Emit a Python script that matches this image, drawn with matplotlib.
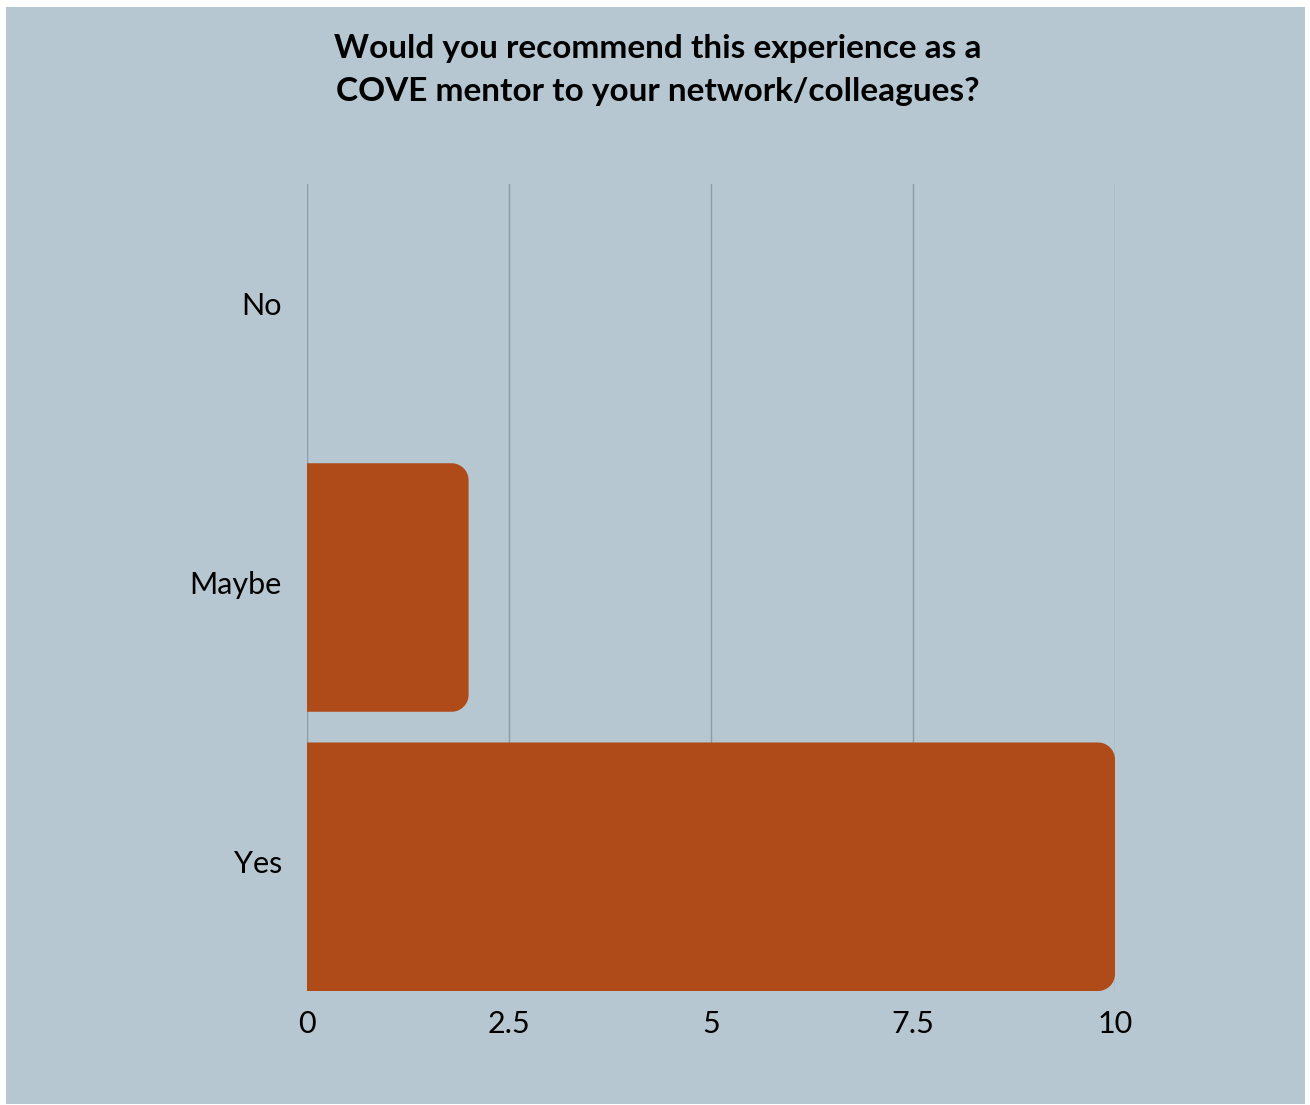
import matplotlib
matplotlib.use("Agg")
import matplotlib.pyplot as plt
from matplotlib.path import Path
from matplotlib.patches import PathPatch, Rectangle
from matplotlib.transforms import ScaledTranslation

categories = ["No", "Maybe", "Yes"]
values = [0, 2, 10]
xticks = [0, 2.5, 5, 7.5, 10]
xtick_labels = ["0", "2.5", "5", "7.5", "10"]
title = "Would you recommend this experience as a\nCOVE mentor to your network/colleagues?"

BG = "#b7c7d1"
BAR = "#ae4b19"
GRID = "#8d9ba5"

plt.rcParams['font.family'] = ['Lato', 'DejaVu Sans']

W, H = 1310, 1105
fig = plt.figure(figsize=(W / 100, H / 100), dpi=100)
fig.patch.set_facecolor("white")
fig.patches.append(Rectangle((6 / W, 1 - 1104 / H), (1305 - 6) / W, (1104 - 7) / H,
                             transform=fig.transFigure, facecolor=BG, edgecolor="none", zorder=-10))

x0, x1 = 307, 1115
y0, y1 = 184, 991
ax = fig.add_axes([x0 / W, 1 - y1 / H, (x1 - x0) / W, (y1 - y0) / H])
ax.set_facecolor("none")
ax.set_xlim(0, 10)
ylo, yhi = -0.445, 2.445
ax.set_ylim(yhi, ylo)

for s in ax.spines.values():
    s.set_visible(False)
for xt in xticks:
    ax.axvline(xt, color=GRID, lw=1.0, zorder=0)

px_x = 10 / (x1 - x0)
px_y = (yhi - ylo) / (y1 - y0)
r_px = 17
rx, ry = r_px * px_x, r_px * px_y
k = 0.5523
h = 0.89
for i, v in enumerate(values):
    if v <= 0:
        continue
    top, bot = i - h / 2, i + h / 2
    verts = [
        (0, top), (v - rx, top),
        (v - rx + k * rx, top), (v, top + ry - k * ry), (v, top + ry),
        (v, bot - ry),
        (v, bot - ry + k * ry), (v - rx + k * rx, bot), (v - rx, bot),
        (0, bot), (0, top),
    ]
    codes = [Path.MOVETO, Path.LINETO,
             Path.CURVE4, Path.CURVE4, Path.CURVE4,
             Path.LINETO,
             Path.CURVE4, Path.CURVE4, Path.CURVE4,
             Path.LINETO, Path.CLOSEPOLY]
    ax.add_patch(PathPatch(Path(verts, codes), facecolor=BAR, edgecolor="none", zorder=2))

ax.set_yticks(range(len(categories)))
ax.set_yticklabels(categories)
ax.set_xticks(xticks)
ax.set_xticklabels(xtick_labels)
ax.tick_params(axis="both", length=0, labelsize=22, colors="black")
ax.tick_params(axis="y", pad=18)
ax.tick_params(axis="x", pad=14)
shift = ScaledTranslation(0, 5 / 100, fig.dpi_scale_trans)
for lab in ax.get_yticklabels():
    lab.set_transform(lab.get_transform() + shift)

fig.text(658 / W, 1 - 70 / H, title, ha="center", va="center", fontsize=24,
         fontweight="bold", linespacing=1.62, color="black")

fig.savefig("out.png", dpi=100, facecolor="white")
